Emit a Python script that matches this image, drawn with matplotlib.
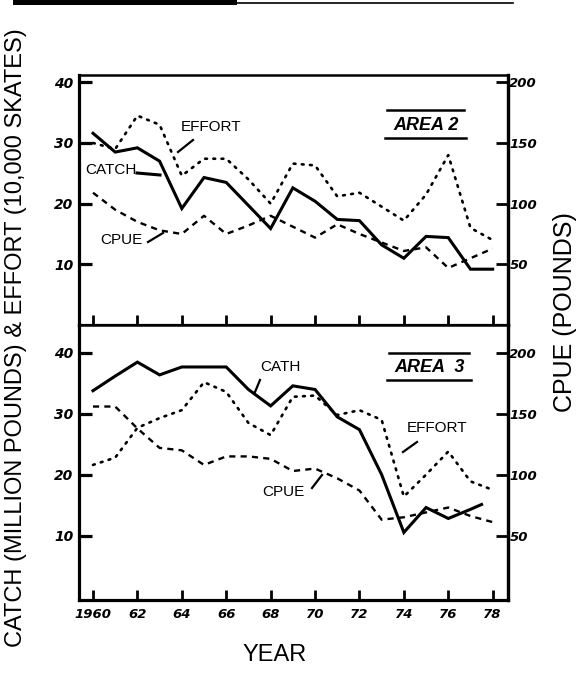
import matplotlib
matplotlib.use("Agg")
import numpy as np
import matplotlib.pyplot as plt
from matplotlib.patches import Rectangle
from matplotlib.lines import Line2D

# ---- data -------------------------------------------------------------
years = list(range(1960, 1979))

# Area 2: catch (million lb), effort (10,000 skates), CPUE (lb)
area2_catch = [31.6, 28.5, 29.2, 27.0, 19.2, 24.3, 23.5, 19.7, 15.9, 22.6,
               20.4, 17.4, 17.2, 13.2, 11.0, 14.6, 14.4, 9.2, 9.2]
area2_effort = [30.0, 29.0, 34.5, 33.0, 24.6, 27.4, 27.4, 24.0, 20.0, 26.6,
                26.3, 21.2, 21.8, 19.5, 17.2, 21.5, 28.0, 16.0, 14.0]
area2_cpue = [109, 95, 85, 78, 75, 90, 75, 82, 90, 81,
              72, 83, 75, 68, 61, 64, 47, 55, 63]

# Area 3
area3_catch_years = list(range(1960, 1978)) + [1977.5]
area3_catch = [33.8, 36.2, 38.5, 36.4, 37.7, 37.7, 37.7, 34.0, 31.3, 34.6,
               34.0, 29.5, 27.4, 20.0, 10.5, 14.6, 12.8, 14.3, 15.1]
area3_effort = [21.6, 22.8, 27.7, 29.3, 30.6, 35.2, 33.6, 28.5, 26.5, 32.8,
                33.0, 29.8, 30.6, 29.0, 16.4, 20.0, 23.8, 18.9, 17.5]
area3_cpue = [156, 156, 138, 122, 120, 108, 115, 115, 113, 103,
              105, 97, 87, 63, 65, 69, 73, 66, 61]

left_ticks = [10, 20, 30, 40]
right_ticks = [50, 100, 150, 200]
right_tick_labels = ["50", "100", "150", "200"]
year_ticks = list(range(1960, 1979, 2))
year_tick_labels = ["1960", "62", "64", "66", "68", "70", "72", "74", "76", "78"]

# ---- styling ----------------------------------------------------------
SANS = ["Liberation Sans", "DejaVu Sans"]
HAND = ["DejaVu Sans"]
plt.rcParams["font.family"] = SANS

W, H = 585, 675
fig = plt.figure(figsize=(W / 100, H / 100), dpi=100)
fig.patch.set_facecolor("white")

def frac(x0, y_top, x1, y_bot):
    return [x0 / W, 1 - y_bot / H, (x1 - x0) / W, (y_bot - y_top) / H]

ax_top = fig.add_axes(frac(79, 75, 508, 325))
ax_bot = fig.add_axes(frac(79, 325, 508, 600))

XLIM = (1959.37, 1978.69)
solid_kw = dict(color="black", lw=2.2, solid_joinstyle="miter")
dot_kw = dict(color="black", lw=1.9, linestyle=(0, (0.7, 2.4)), dash_capstyle="round")
dash_kw = dict(color="black", lw=1.7, linestyle=(0, (2.6, 2.2)))


def style_axes(ax, ylim, show_x_labels):
    ax.set_xlim(*XLIM)
    ax.set_ylim(*ylim)
    for s in ax.spines.values():
        s.set_linewidth(2.3)
    ax.spines["top"].set_linewidth(1.8)
    ax.set_yticks(left_ticks)
    ax.set_yticklabels([str(v) for v in left_ticks], fontsize=10,
                       fontweight="bold", fontstyle="italic", family=HAND)
    ax.tick_params(axis="y", direction="in", length=9, width=2.3, pad=4)
    ax.set_xticks(year_ticks)
    if show_x_labels:
        ax.set_xticklabels(year_tick_labels, fontsize=9.5, fontweight="bold",
                           fontstyle="italic", family=HAND)
    else:
        ax.set_xticklabels([])
    ax.tick_params(axis="x", direction="in", length=7, width=2.0, pad=6)

    twin = ax.twinx()
    twin.set_ylim(ylim[0] * 5, ylim[1] * 5)
    twin.set_yticks(right_ticks)
    twin.set_yticklabels(right_tick_labels, fontsize=9.5, fontweight="bold",
                         fontstyle="italic", family=HAND)
    twin.tick_params(axis="y", direction="in", length=9, width=2.0, pad=1)
    for s in twin.spines.values():
        s.set_visible(False)
    twin.spines["right"].set_visible(True)
    twin.spines["right"].set_linewidth(2.3)
    return twin


tw_top = style_axes(ax_top, (0, 41.2), False)
tw_bot = style_axes(ax_bot, (-0.6, 44.6), True)

# ---- series -----------------------------------------------------------
ax_top.plot(years, area2_catch, **solid_kw)
ax_top.plot(years, area2_effort, **dot_kw)
tw_top.plot(years, area2_cpue, **dash_kw)

ax_bot.plot(area3_catch_years, area3_catch, **solid_kw)
ax_bot.plot(years, area3_effort, **dot_kw)
tw_bot.plot(years, area3_cpue, **dash_kw)

# ---- annotations ------------------------------------------------------
def label(text, x, y, size=11):
    fig.text(x / W, 1 - y / H, text, ha="center", va="center",
             fontsize=size, family=SANS)

def leader(x0, y0, x1, y1, lw=1.6):
    fig.add_artist(Line2D([x0 / W, x1 / W], [1 - y0 / H, 1 - y1 / H],
                          color="black", lw=lw, transform=fig.transFigure))

# Area 2 labels
label("EFFORT", 211, 127)
leader(193, 140, 178, 152)
label("CATCH", 111, 170)
leader(137, 173, 160, 175, lw=2.2)
label("CPUE", 121, 240)
leader(148, 242, 163, 233)

# Area 3 labels
label("CATH", 280, 367)
leader(260, 380, 255, 392)
label("EFFORT", 437, 428)
leader(417, 442, 403, 452)
label("CPUE", 283, 492)
leader(312, 488, 322, 475)

def area_box(text, x0, x1, yc, y_over, y_under):
    fig.text((x0 + x1) / 2 / W, 1 - yc / H, text, ha="center", va="center",
             fontsize=13, fontstyle="italic", fontweight="bold", family=SANS)
    leader(x0 - 3, y_over, x1 + 2, y_over, lw=1.8)
    leader(x0 - 5, y_under, x1 + 4, y_under, lw=1.8)

area_box("AREA 2", 390, 462, 125, 110, 138)
area_box("AREA  3", 392, 467, 368, 353, 380)

# ---- axis titles ------------------------------------------------------
fig.text(16 / W, 1 - 338 / H, "CATCH (MILLION POUNDS) & EFFORT (10,000 SKATES)",
         rotation=90, ha="center", va="center", fontsize=17, family=SANS)
fig.text(565 / W, 1 - 312 / H, "CPUE (POUNDS)", rotation=90,
         ha="center", va="center", fontsize=18, family=SANS)
fig.text(275 / W, 1 - 655 / H, "YEAR", ha="center", va="center",
         fontsize=17, family=SANS)

# heavy rule along the top edge of the sheet
fig.add_artist(Rectangle((13 / W, 1 - 5 / H), 224 / W, 5 / H,
                         transform=fig.transFigure, color="black", lw=0))
leader(237, 3, 513, 3, lw=1.2)

fig.savefig("out.png", dpi=100, facecolor="white")
